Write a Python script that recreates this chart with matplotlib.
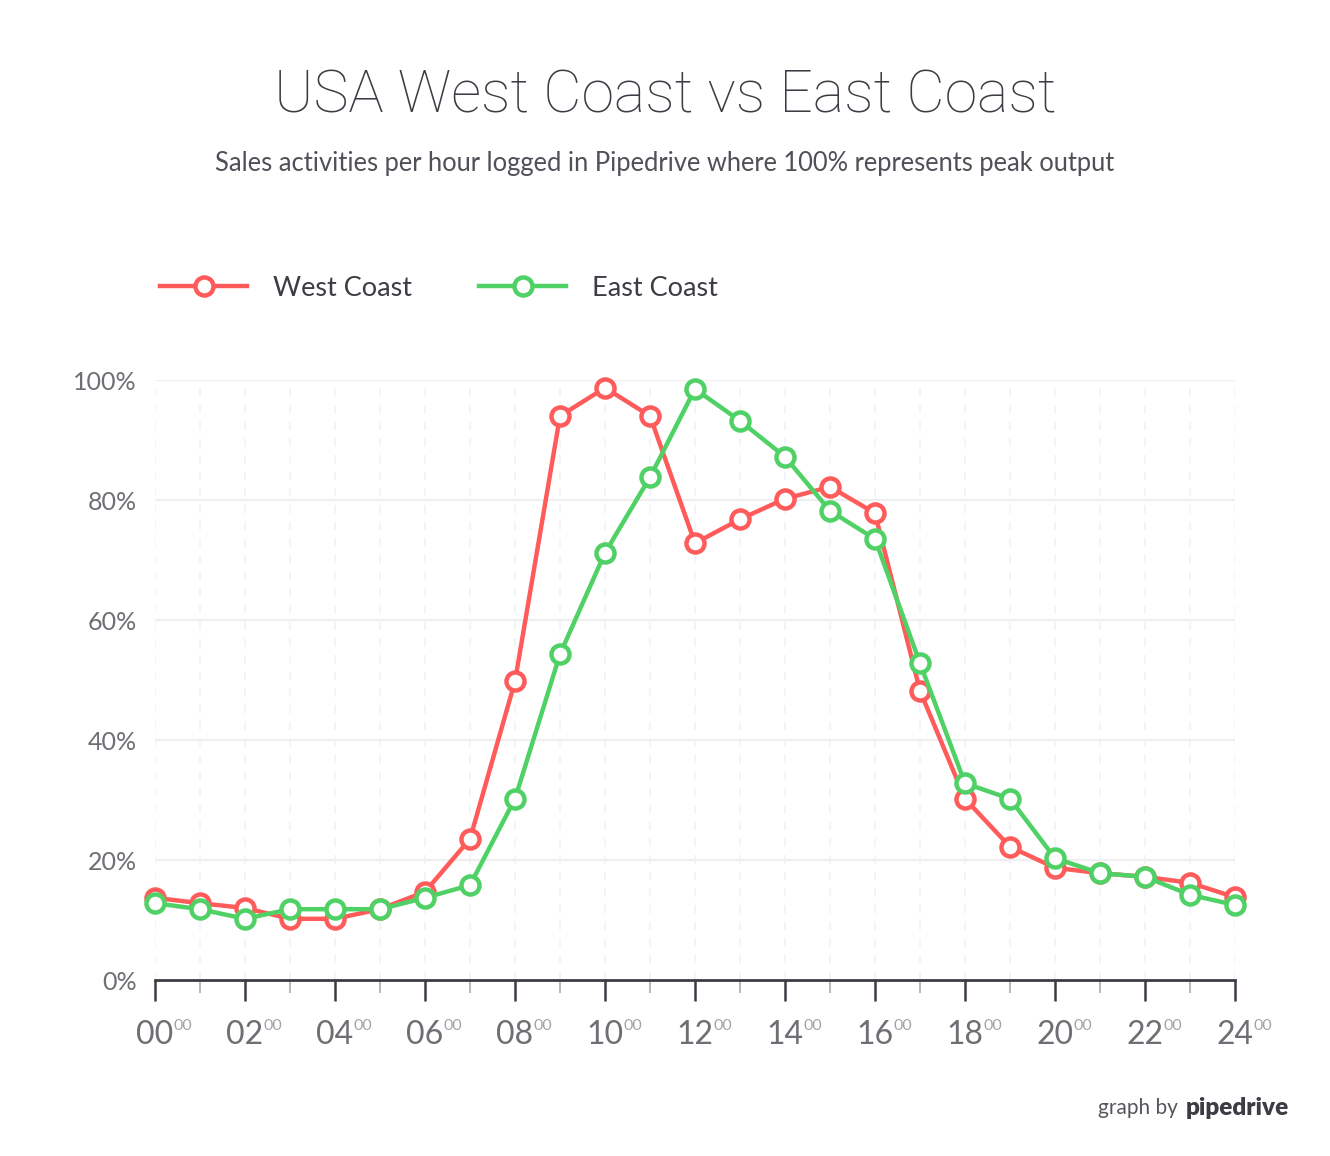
import matplotlib
matplotlib.use("Agg")
import matplotlib.pyplot as plt
from matplotlib.ticker import MultipleLocator, FixedLocator
import matplotlib.font_manager as fm

# data (percent of peak output per hour)
hours = list(range(25))
west = [13.7, 12.8, 12.0, 10.2, 10.2, 11.8, 14.7, 23.5, 49.8, 94.0, 98.7, 94.0,
        72.8, 76.8, 80.2, 82.2, 77.8, 48.2, 30.2, 22.2, 18.7, 17.8, 17.2, 16.2, 13.8]
east = [12.8, 11.8, 10.2, 11.8, 11.8, 11.8, 13.7, 15.8, 30.2, 54.3, 71.2, 83.8,
        98.5, 93.2, 87.2, 78.2, 73.5, 52.8, 32.8, 30.2, 20.3, 17.8, 17.2, 14.2, 12.5]
y_ticks = [0, 20, 40, 60, 80, 100]
x_major = list(range(0, 25, 2))
x_labels = ["%02d" % h for h in x_major]

RED = "#ff5b5b"
GREEN = "#4fd165"
DARK = "#3c3c44"
GRAY = "#6e6e74"

names = {f.name for f in fm.fontManager.ttflist}
FONT = "Lato" if "Lato" in names else "DejaVu Sans"
TITLE_FONT = "Roboto" if "Roboto" in names else FONT
plt.rcParams["font.family"] = [FONT, "DejaVu Sans"]

fig = plt.figure(figsize=(13.3, 11.56), dpi=100)
ax = fig.add_axes([155 / 1330, 1 - 980 / 1156, 1080 / 1330, 600 / 1156])

line_kw = dict(lw=3.2, marker="o", ms=13, mfc="white", mew=3.2, clip_on=False, zorder=3)
ax.plot(hours, west, color=RED, label="West Coast", **line_kw)
ax.plot(hours, east, color=GREEN, label="East Coast", **line_kw)

ax.set_xlim(0, 24)
ax.set_ylim(0, 100)

# grid
for y in y_ticks[1:]:
    ax.axhline(y, color="#efefef", lw=1.6, zorder=0)
for h in hours:
    ax.axvline(h, color="#eef3f9", lw=1.2, ls=(0, (5, 5)), zorder=0)

for s in ["top", "right", "left"]:
    ax.spines[s].set_visible(False)
ax.spines["bottom"].set_color(DARK)
ax.spines["bottom"].set_linewidth(2)

ax.yaxis.set_major_locator(FixedLocator(y_ticks))
ax.set_yticklabels(["%d%%" % v for v in y_ticks])
ax.tick_params(axis="y", length=0, pad=13, labelsize=18, labelcolor=GRAY)

ax.xaxis.set_major_locator(FixedLocator(x_major))
ax.set_xticklabels(x_labels)
ax.xaxis.set_minor_locator(MultipleLocator(1))
ax.tick_params(axis="x", which="major", direction="out", length=15, width=1.8,
               color=DARK, pad=14, labelsize=23, labelcolor=GRAY)
ax.tick_params(axis="x", which="minor", direction="out", length=9, width=1.5, color="#bbbbbb")

# superscript "00" after each hour label
for h in x_major:
    ax.annotate("00", xy=(h, 0), xycoords="data", xytext=(13, -33),
                textcoords="offset points", fontsize=11.5, color="#a4a4a8",
                ha="left", va="center", annotation_clip=False)

# title and subtitle
fig.text(0.5, 1 - 96 / 1156, "USA West Coast vs East Coast", ha="center", va="center",
         fontsize=42.6, color=DARK, fontweight="light", family=[TITLE_FONT, "DejaVu Sans"])
fig.text(0.5, 1 - 163 / 1156, "Sales activities per hour logged in Pipedrive where 100% represents peak output",
         ha="center", va="center", fontsize=18.4, color="#505058")

# legend
leg = fig.legend(loc="center left", bbox_to_anchor=(136 / 1330, 1 - 288 / 1156), ncol=2,
                 frameon=False, fontsize=19.5, handlelength=3.2, handletextpad=0.95,
                 columnspacing=2.5, labelcolor=DARK)

# footer
fig.text(1178 / 1330, 1 - 1108 / 1156, "graph by", ha="right", va="center",
         fontsize=15, color="#55555c")
fig.text(1186 / 1330, 1 - 1108 / 1156, "pipedrive", ha="left", va="center",
         fontsize=17.5, color=DARK, fontweight="heavy")

fig.savefig("out.png", dpi=100)
